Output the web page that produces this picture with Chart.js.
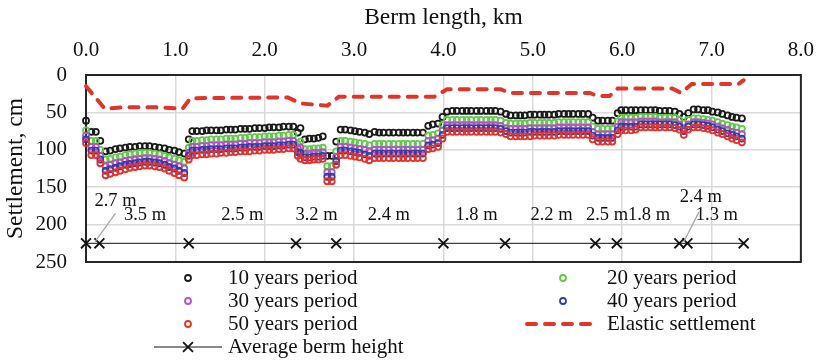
<!DOCTYPE html>
<html><head><meta charset="utf-8">
<script src="https://cdn.jsdelivr.net/npm/chart.js@4.4.1/dist/chart.umd.min.js"></script>
<style>html,body{margin:0;padding:0;background:#fff;}#wrap{width:826px;height:364px;position:relative;}</style>
</head><body><div id="wrap"><canvas id="c" width="826" height="364"></canvas></div>
<script>
// ---------- DATA ----------
const kmPoints = [
0.00, 0.06, 0.11, 0.16,
0.22, 0.27, 0.33, 0.38, 0.44, 0.49, 0.55, 0.60, 0.66, 0.71, 0.77, 0.82, 0.88, 0.93, 0.99, 1.04, 1.10,
1.15,
1.19, 1.24, 1.30, 1.35, 1.40, 1.46, 1.51, 1.57, 1.62, 1.67, 1.73, 1.78, 1.83, 1.89, 1.94, 2.00, 2.05, 2.10, 2.16, 2.21, 2.27, 2.32,
2.37, 2.40,
2.45, 2.50, 2.55, 2.60, 2.65,
2.70, 2.75,
2.80,
2.85, 2.90, 2.96, 3.01, 3.06, 3.12, 3.17, 3.23, 3.28, 3.33, 3.39, 3.44, 3.50, 3.55, 3.60, 3.66, 3.71, 3.77,
3.83, 3.88, 3.94, 3.99,
4.04, 4.10, 4.15, 4.21, 4.26, 4.31, 4.37, 4.42, 4.48, 4.53, 4.58, 4.64,
4.70, 4.75, 4.81, 4.86, 4.91, 4.97, 5.02, 5.08, 5.13, 5.18, 5.24, 5.29, 5.35, 5.40, 5.45, 5.51, 5.56, 5.62,
5.67, 5.73, 5.78, 5.84, 5.89,
5.95,
5.99, 6.04, 6.10, 6.15, 6.21, 6.26, 6.32, 6.37, 6.42, 6.48, 6.53, 6.59,
6.64, 6.69, 6.74,
6.80, 6.85, 6.91, 6.96, 7.01, 7.07, 7.12, 7.18, 7.23, 7.28, 7.34
];
const settle10 = [
61, 76, 76, 88,
102, 101, 99, 98, 97, 96, 96, 95, 95, 95, 96, 97, 98, 100, 101, 103, 105,
86,
75, 75, 75, 74, 74, 74, 74, 73, 73, 73, 72, 72, 72, 71, 71, 71, 70, 70, 70, 69, 69, 69,
77, 71,
86, 85, 85, 84, 82,
108, 108,
89,
73, 73, 74, 75, 76, 77, 79, 76, 77, 77, 77, 77, 77, 77, 77, 77, 77, 77,
68, 66, 65, 56,
49, 48, 48, 48, 48, 48, 48, 48, 48, 48, 48, 49,
52, 54, 54, 54, 54, 53, 53, 53, 53, 53, 53, 52, 52, 52, 52, 52, 52, 52,
57, 61, 61, 61, 61,
51,
47, 47, 47, 47, 47, 47, 47, 47, 48, 48, 48, 49,
52, 56, 51,
46, 46, 47, 47, 49, 50, 52, 54, 56, 57, 58
];
const settle20 = [
74, 88, 88, 100,
113, 112, 110, 109, 107, 106, 105, 104, 104, 104, 105, 106, 108, 110, 112, 114, 116,
97,
88, 88, 87, 87, 86, 86, 86, 85, 85, 85, 84, 84, 83, 83, 83, 82, 82, 82, 81, 81, 80, 80,
92, 89,
99, 99, 98, 98, 97,
122, 122,
102,
88, 88, 89, 90, 91, 92, 94, 92, 92, 92, 92, 92, 92, 92, 92, 92, 92, 92,
81, 80, 78, 67,
60, 60, 60, 60, 60, 60, 60, 60, 60, 60, 60, 61,
64, 65, 65, 65, 65, 64, 64, 64, 64, 64, 64, 63, 63, 63, 63, 63, 63, 63,
69, 72, 72, 72, 72,
62,
57, 57, 57, 57, 56, 56, 56, 56, 57, 57, 57, 57,
60, 65, 60,
58, 58, 59, 60, 61, 63, 65, 67, 69, 70, 72
];
const settle30 = [
81, 96, 96, 108,
122, 120, 118, 117, 115, 114, 113, 112, 111, 111, 112, 113, 115, 118, 120, 122, 125,
104,
96, 96, 95, 95, 94, 94, 94, 93, 93, 93, 92, 92, 91, 91, 91, 90, 90, 90, 89, 89, 88, 88,
98, 97,
105, 105, 104, 104, 103,
130, 130,
109,
96, 96, 97, 98, 99, 100, 102, 100, 100, 100, 100, 100, 100, 100, 100, 100, 100, 100,
88, 87, 85, 74,
67, 67, 67, 67, 67, 67, 67, 67, 67, 67, 67, 68,
71, 72, 72, 72, 72, 71, 71, 71, 71, 71, 71, 70, 70, 70, 70, 70, 70, 70,
76, 79, 79, 79, 79,
69,
63, 63, 63, 63, 62, 62, 62, 62, 63, 63, 63, 63,
66, 71, 66,
63, 63, 64, 65, 66, 69, 71, 73, 76, 77, 79
];
const settle40 = [
86, 101, 101, 113,
128, 126, 124, 122, 120, 119, 118, 117, 116, 116, 117, 118, 120, 123, 125, 128, 131,
108,
101, 101, 100, 100, 99, 99, 99, 98, 98, 98, 97, 97, 96, 96, 96, 95, 95, 95, 94, 94, 93, 93,
103, 104,
110, 110, 109, 109, 108,
136, 136,
115,
101, 101, 102, 103, 104, 106, 108, 105, 105, 105, 105, 105, 105, 105, 105, 105, 105, 105,
94, 93, 91, 80,
71, 71, 71, 71, 71, 71, 71, 71, 71, 71, 71, 72,
75, 77, 77, 77, 77, 76, 76, 76, 76, 76, 76, 75, 75, 75, 75, 75, 75, 75,
81, 84, 84, 84, 84,
74,
69, 69, 69, 69, 66, 66, 66, 66, 66, 66, 66, 67,
69, 75, 69,
66, 66, 67, 68, 70, 73, 75, 78, 80, 82, 85
];
const settle50 = [
91, 107, 107, 118,
134, 132, 130, 128, 126, 124, 123, 122, 121, 121, 122, 123, 125, 128, 131, 134, 137,
113,
107, 107, 106, 106, 105, 105, 104, 104, 103, 103, 102, 102, 102, 101, 101, 100, 100, 100, 99, 99, 98, 98,
108, 112,
114, 114, 113, 113, 112,
142, 142,
120,
107, 107, 108, 109, 110, 112, 114, 111, 111, 111, 111, 111, 111, 111, 111, 111, 111, 111,
99, 98, 96, 85,
76, 76, 76, 76, 76, 76, 76, 76, 76, 76, 76, 77,
79, 82, 82, 82, 82, 82, 81, 81, 81, 81, 81, 80, 80, 80, 80, 80, 80, 80,
86, 89, 89, 89, 89,
79,
74, 74, 74, 73, 70, 70, 70, 70, 70, 70, 70, 71,
73, 80, 73,
70, 70, 71, 72, 74, 77, 79, 82, 85, 87, 90
];
const elasticKm = [0, 0.21, 0.45, 0.75, 1.08, 1.17, 2.26, 2.40, 2.70, 2.83, 3.90, 4.04, 4.64, 4.74, 5.64, 5.72, 5.86, 5.95, 6.56, 6.66, 6.78, 7.30, 7.36];
const elasticCm = [15, 45, 43, 43, 45, 31, 30, 38, 41, 29, 29, 19, 19, 24, 24, 28, 28, 18, 18, 24, 12, 12, 7];
const bermKm = [0, 0.15, 1.15, 2.35, 2.80, 4.00, 4.69, 5.70, 5.94, 6.64, 6.73, 7.36];
const bermCm = [225, 225, 225, 225, 225, 225, 225, 225, 225, 225, 225, 225];
const bermLabels = ['2.7 m', '3.5 m', '2.5 m', '3.2 m', '2.4 m', '1.8 m', '2.2 m', '2.5 m', '1.8 m', '2.4 m', '1.3 m'];
const bermLabelKm = [0.33, 0.66, 1.75, 2.58, 3.39, 4.37, 5.21, 5.83, 6.30, 6.88, 7.06];
const bermLabelCm = [169, 188, 188, 188, 188, 188, 188, 188, 188, 163, 188];
const leaderFromKm = [0.33, 6.86], leaderFromCm = [185, 183];
const leaderToKm = [0.10, 6.69], leaderToCm = [223, 223];
const xTicks = [0, 1, 2, 3, 4, 5, 6, 7, 8];
const yTicks = [0, 50, 100, 150, 200, 250];
const seriesNames = ['10 years period', '20 years period', '30 years period', '40 years period', '50 years period', 'Elastic settlement', 'Average berm height'];

// ---------- CHART ----------
const FAM = "'Liberation Serif', 'Times New Roman', serif";
const TXT = '#111111';
const pts = (xs, ys) => xs.map((v, i) => ({x: v, y: ys[i]}));
const colors = ['#1a1a1a', '#5ecb45', '#b84fc8', '#2f3fa6', '#e6322a'];
const series = [settle10, settle20, settle30, settle40, settle50];

const datasets = series.map((s, i) => ({
  label: seriesNames[i], data: pts(kmPoints, s), showLine: false,
  pointStyle: 'circle', pointRadius: 3, pointBorderWidth: 1.8,
  pointBorderColor: colors[i], pointBackgroundColor: 'rgba(255,255,255,0)',
  borderColor: colors[i], backgroundColor: 'rgba(255,255,255,0)',
  order: 10 - i, clip: false
}));
datasets.push({
  label: seriesNames[5], data: pts(elasticKm, elasticCm), showLine: true,
  borderColor: '#e3342b', borderWidth: 4, borderDash: [9, 9], borderCapStyle: 'round',
  pointRadius: 0, tension: 0, order: 2, clip: false
});
datasets.push({
  label: seriesNames[6], data: pts(bermKm, bermCm), showLine: true,
  borderColor: '#111', borderWidth: 1, pointStyle: 'crossRot', pointRadius: 7,
  pointBorderWidth: 1.8, pointBorderColor: '#111', pointBackgroundColor: '#111',
  tension: 0, order: 1, clip: false
});

const deco = {
  id: 'deco',
  beforeDatasetsDraw(chart) {
    const {ctx, chartArea: a} = chart;
    ctx.save();
    ctx.strokeStyle = '#262626'; ctx.lineWidth = 2;
    ctx.strokeRect(a.left, a.top, a.right - a.left, a.bottom - a.top);
    ctx.restore();
  },
  afterDatasetsDraw(chart) {
    const {ctx, scales: {x, y}} = chart;
    ctx.save();
    ctx.strokeStyle = '#a8a8a8'; ctx.lineWidth = 1.3;
    for (let i = 0; i < leaderFromKm.length; i++) {
      ctx.beginPath();
      ctx.moveTo(x.getPixelForValue(leaderFromKm[i]), y.getPixelForValue(leaderFromCm[i]));
      ctx.lineTo(x.getPixelForValue(leaderToKm[i]), y.getPixelForValue(leaderToCm[i]));
      ctx.stroke();
    }
    ctx.fillStyle = TXT; ctx.font = '18.5px ' + FAM;
    ctx.textAlign = 'center'; ctx.textBaseline = 'middle';
    bermLabels.forEach((t, i) => {
      ctx.fillText(t, x.getPixelForValue(bermLabelKm[i]), y.getPixelForValue(bermLabelCm[i]));
    });
    ctx.restore();
  },
  afterDraw(chart) {
    const ctx = chart.ctx;
    const ds = chart.data.datasets;
    const rows = [278, 301, 324, 347];
    const cols = [{m: 188, t: 228}, {m: 563, t: 607}];
    const place = [[0,0],[1,0],[0,1],[1,1],[0,2],[1,2],[0,3]];
    ctx.save();
    ctx.font = '21px ' + FAM; ctx.fillStyle = TXT;
    ctx.textAlign = 'left'; ctx.textBaseline = 'middle';
    ds.forEach((d, i) => {
      const [c, r] = place[i];
      const mx = cols[c].m, yy = rows[r];
      if (i < 5) {
        ctx.beginPath(); ctx.lineWidth = d.pointBorderWidth; ctx.strokeStyle = d.pointBorderColor;
        ctx.arc(mx, yy, d.pointRadius, 0, Math.PI * 2); ctx.stroke();
      } else if (i === 5) {
        ctx.beginPath(); ctx.lineWidth = 4; ctx.strokeStyle = d.borderColor; ctx.lineCap = 'round';
        ctx.setLineDash([9, 9]); ctx.moveTo(mx - 36, yy); ctx.lineTo(mx + 36, yy); ctx.stroke();
        ctx.setLineDash([]); ctx.lineCap = 'butt';
      } else {
        ctx.beginPath(); ctx.lineWidth = 1; ctx.strokeStyle = d.borderColor;
        ctx.moveTo(mx - 34, yy); ctx.lineTo(mx + 34, yy); ctx.stroke();
        const o = d.pointRadius * Math.SQRT1_2;
        ctx.beginPath(); ctx.lineWidth = 1.8;
        ctx.moveTo(mx - o, yy - o); ctx.lineTo(mx + o, yy + o);
        ctx.moveTo(mx - o, yy + o); ctx.lineTo(mx + o, yy - o); ctx.stroke();
      }
      ctx.fillText(d.label, cols[c].t, yy);
    });
    ctx.restore();
  }
};

new Chart(document.getElementById('c'), {
  type: 'scatter',
  data: {datasets},
  options: {
    responsive: false, animation: false, events: [],
    layout: {padding: {left: 0, right: 18, top: 0, bottom: 102}},
    plugins: {legend: {display: false}, tooltip: {enabled: false}},
    scales: {
      x: {
        type: 'linear', position: 'top', min: 0, max: 8,
        afterBuildTicks: s => { s.ticks = xTicks.map(v => ({value: v})); },
        ticks: {callback: v => Number(v).toFixed(1), font: {family: FAM, size: 21}, color: TXT, padding: 12, maxRotation: 0, autoSkip: false},
        grid: {color: '#d9d9d9', lineWidth: 1.5, drawTicks: false},
        border: {display: false},
        title: {display: true, text: 'Berm length, km', font: {family: FAM, size: 23.5}, color: TXT, padding: {top: 4, bottom: 0}},
        afterFit: s => { s.height = 75; }
      },
      y: {
        type: 'linear', position: 'left', reverse: true, min: 0, max: 250,
        afterBuildTicks: s => { s.ticks = yTicks.map(v => ({value: v})); },
        ticks: {font: {family: FAM, size: 21}, color: TXT, padding: 19, autoSkip: false},
        grid: {color: '#d9d9d9', lineWidth: 1.5, drawTicks: false},
        border: {display: false},
        title: {display: true, text: 'Settlement, cm', font: {family: FAM, size: 23.5}, color: TXT, padding: {top: 2, bottom: 0}},
        afterFit: s => { s.width = 86; }
      }
    }
  },
  plugins: [deco]
});
</script>
</body></html>
